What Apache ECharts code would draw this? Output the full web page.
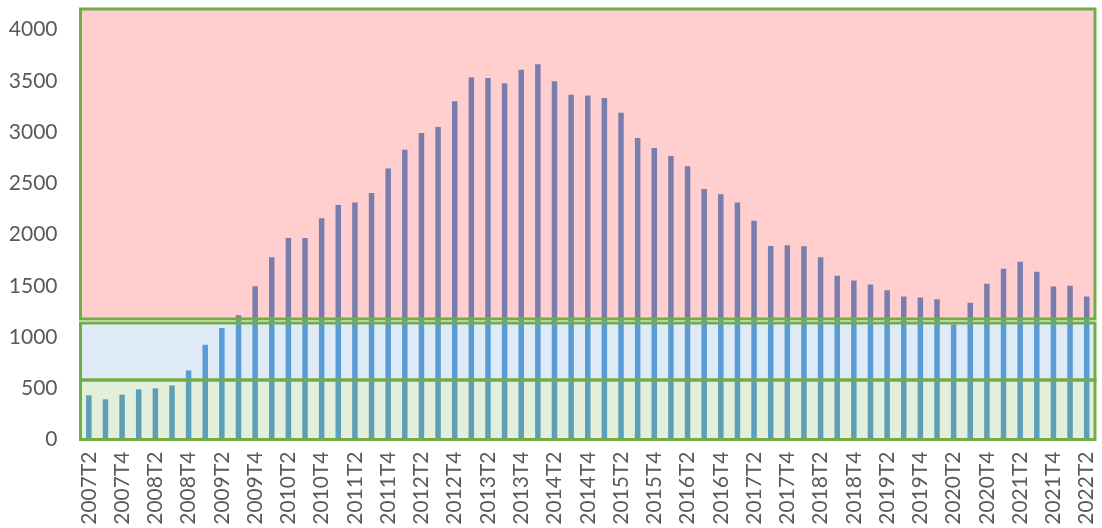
<!DOCTYPE html>
<html>
<head>
<meta charset="utf-8">
<title>Chart</title>
<script src="https://cdn.jsdelivr.net/npm/echarts@6/dist/echarts.min.js"></script>
<style>
  html, body { margin: 0; padding: 0; background: #fff; }
  #chart { width: 1102px; height: 528px; }
</style>
</head>
<body>
<div id="chart"></div>
<script>
// quarters, 2007T2 .. 2022T2
const quarters = [
  '2007T2', '2007T3', '2007T4',
  '2008T1', '2008T2', '2008T3', '2008T4',
  '2009T1', '2009T2', '2009T3', '2009T4',
  '2010T1', '2010T2', '2010T3', '2010T4',
  '2011T1', '2011T2', '2011T3', '2011T4',
  '2012T1', '2012T2', '2012T3', '2012T4',
  '2013T1', '2013T2', '2013T3', '2013T4',
  '2014T1', '2014T2', '2014T3', '2014T4',
  '2015T1', '2015T2', '2015T3', '2015T4',
  '2016T1', '2016T2', '2016T3', '2016T4',
  '2017T1', '2017T2', '2017T3', '2017T4',
  '2018T1', '2018T2', '2018T3', '2018T4',
  '2019T1', '2019T2', '2019T3', '2019T4',
  '2020T1', '2020T2', '2020T3', '2020T4',
  '2021T1', '2021T2', '2021T3', '2021T4',
  '2022T1', '2022T2'
]

const values = [
  431, 392, 437, 489, 499, 528, 674, 924, 1087, 1213, 1496,
  1779, 1967, 1967, 2159, 2289, 2312, 2406, 2643, 2828, 2990, 3049, 3299, 3533,
  3526, 3475, 3608, 3660, 3494, 3364, 3355, 3332, 3189, 2942, 2844, 2765,
  2666, 2445, 2393, 2312, 2133, 1889, 1896, 1886, 1779, 1597, 1552, 1513,
  1457, 1396, 1386, 1369, 1123, 1333, 1519, 1665, 1733, 1636, 1493, 1499, 1396
]

// zones drawn over the bars: [from, to]
const lowZone = [0, 580]
const midZone = [580, 1136]
const highZone = [1175, 4200]

const yTicks = [0, 4200, 500]  // min, max, interval

const chart = echarts.init(document.getElementById('chart'))

const zoneStyle = (fill) => ({
  color: fill,
  borderColor: '#70ad47',
  borderWidth: 3
})

chart.setOption({
  animation: false,
  grid: { left: 80.5, right: 7, top: 9, bottom: 88.5, outerBoundsMode: 'none' },
  xAxis: {
    type: 'category',
    data: quarters,
    axisLine: { show: false },
    axisTick: { show: false },
    axisLabel: {
      interval: 1,
      rotate: 90,
      margin: 12,
      fontFamily: 'Lato',
      fontSize: 21,
      color: '#595959'
    }
  },
  yAxis: {
    type: 'value',
    min: yTicks[0],
    max: yTicks[1],
    interval: yTicks[2],
    splitLine: { show: false },
    axisLine: { show: false },
    axisTick: { show: false },
    axisLabel: {
      showMaxLabel: false,
      margin: 23,
      formatter: (v) => String(v),
      fontFamily: 'Lato',
      fontSize: 21,
      color: '#595959'
    }
  },
  series: [{
    type: 'bar',
    data: values,
    barWidth: 5.5,
    itemStyle: { color: '#5b9bd5' },
    markArea: {
      silent: true,
      z: 5,
      data: [
        [{ yAxis: lowZone[0], itemStyle: zoneStyle('rgba(112,173,71,0.2)') }, { yAxis: lowZone[1] }],
        [{ yAxis: midZone[0], itemStyle: zoneStyle('rgba(91,155,213,0.2)') }, { yAxis: midZone[1] }],
        [{ yAxis: highZone[0], itemStyle: zoneStyle('rgba(255,0,0,0.19)') }, { yAxis: highZone[1] }]
      ]
    }
  }]
})
</script>
</body>
</html>
